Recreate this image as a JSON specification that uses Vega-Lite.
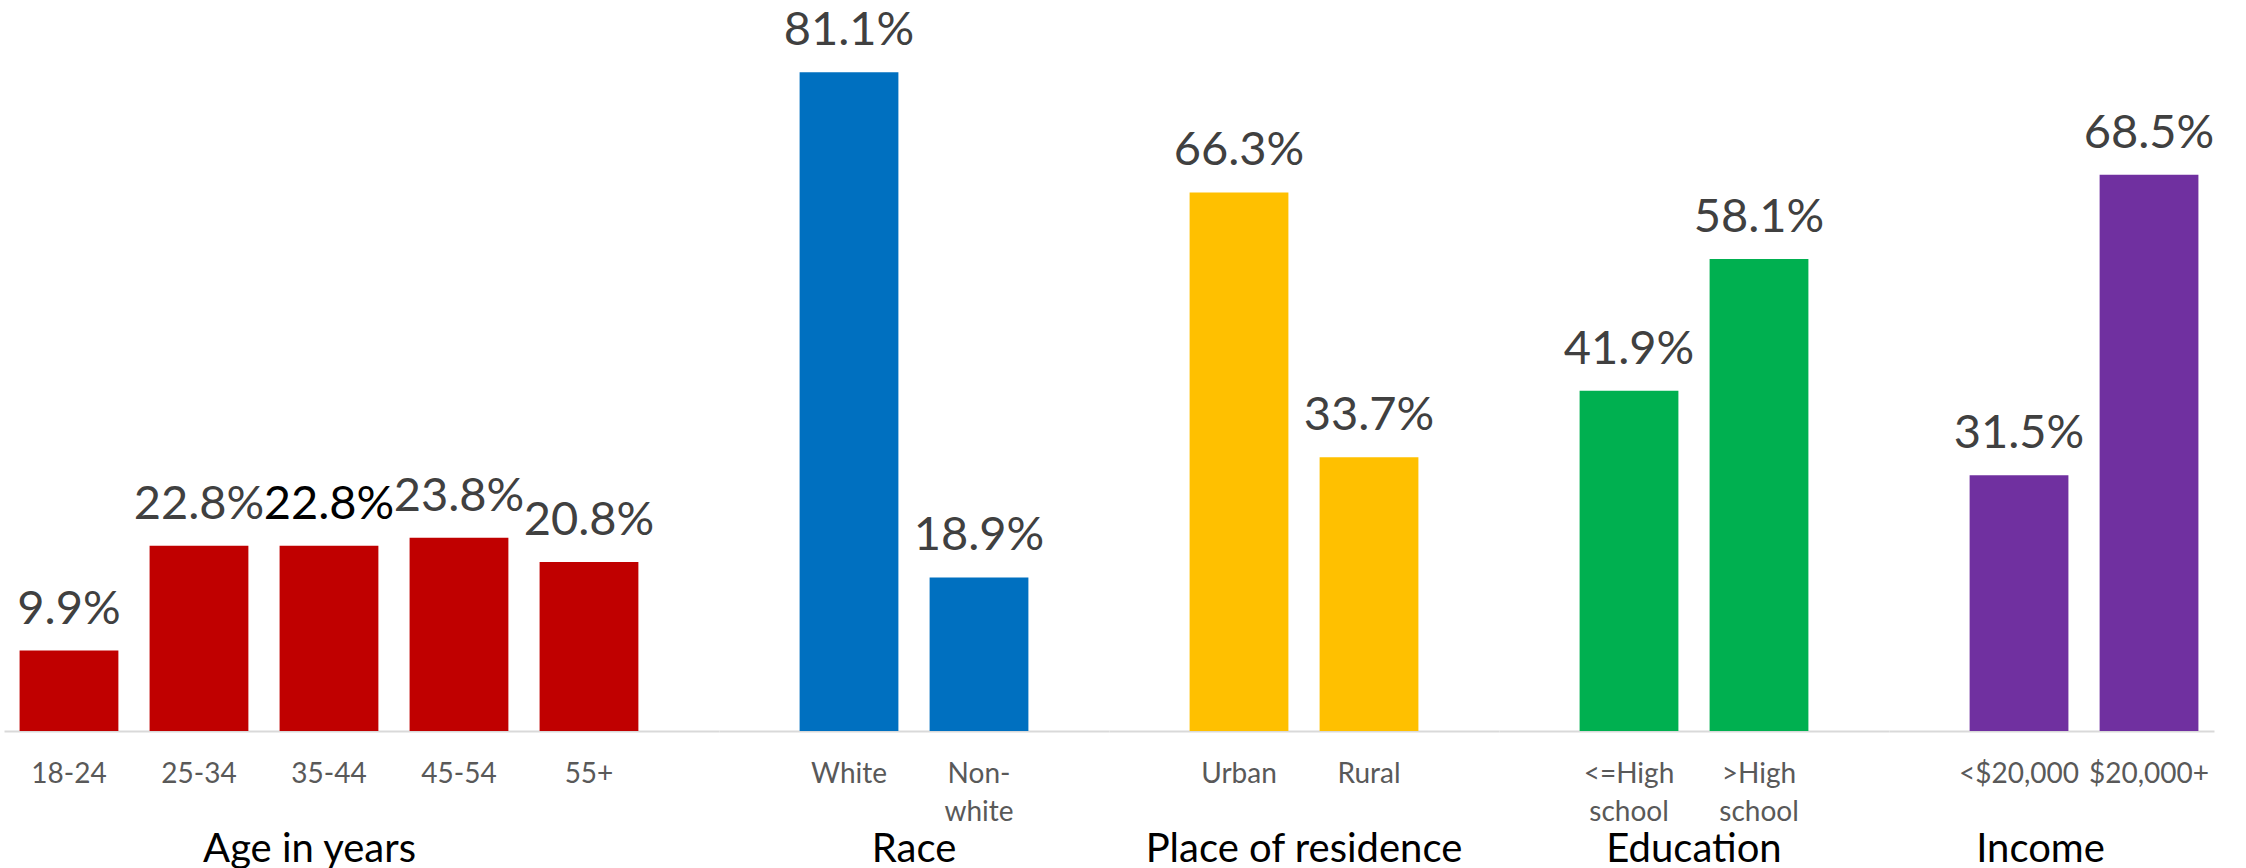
{
  "$schema": "https://vega.github.io/schema/vega-lite/v6.json",
  "padding": {"left": 4, "top": 0, "right": 0, "bottom": 0},
  "background": "white",
  "config": {
    "view": {"stroke": null},
    "font": "Lato",
    "concat": {"spacing": 0},
    "axisX": {
      "title": null,
      "ticks": false,
      "grid": false,
      "domainColor": "#D9D9D9",
      "domainWidth": 2,
      "labelAngle": 0,
      "labelFont": "Lato",
      "labelFontSize": 28,
      "labelColor": "#595959",
      "labelPadding": 29,
      "labelLineHeight": 38,
      "labelExpr": "indexof(datum.label, '|') >= 0 ? split(datum.label, '|') : [datum.label, ' ']"
    },
    "title": {"font": "Lato", "fontSize": 40, "fontWeight": "normal", "color": "#000000", "orient": "bottom", "anchor": "middle", "offset": 0}
  },
  "datasets": {
    "d": [
      {"group": "Age in years", "category": "18-24", "value": 0.099},
      {"group": "Age in years", "category": "25-34", "value": 0.228},
      {"group": "Age in years", "category": "35-44", "value": 0.228},
      {"group": "Age in years", "category": "45-54", "value": 0.238},
      {"group": "Age in years", "category": "55+", "value": 0.208},
      {"group": "Race", "category": "White", "value": 0.811},
      {"group": "Race", "category": "Non-|white", "value": 0.189},
      {"group": "Place of residence", "category": "Urban", "value": 0.663},
      {"group": "Place of residence", "category": "Rural", "value": 0.337},
      {"group": "Education", "category": "<=High|school", "value": 0.419},
      {"group": "Education", "category": ">High|school", "value": 0.581},
      {"group": "Income", "category": "<$20,000", "value": 0.315},
      {"group": "Income", "category": "$20,000+", "value": 0.685}
    ]
  },
  "hconcat": [
    {
      "width": 715, "height": 731,
      "title": {"text": "Age in years", "dx": -52},
      "data": {"name": "d"},
      "transform": [{"filter": "datum.group == 'Age in years'"}],
      "encoding": {
        "x": {"field": "category", "type": "nominal", "sort": null, "scale": {"paddingInner": 0.24, "paddingOuter": 0.37, "align": 0.162}},
        "y": {"field": "value", "type": "quantitative", "scale": {"domain": [0, 0.9]}, "axis": null}
      },
      "layer": [
        {"mark": {"type": "bar", "color": "#C00000"}},
        {"mark": {"type": "text", "fontSize": 47, "baseline": "alphabetic", "dy": -27, "font": "Lato"},
         "encoding": {"text": {"field": "value", "format": ".1%"},
           "color": {"condition": {"test": "datum.category == '35-44'", "value": "#000000"}, "value": "#404040"}}}
      ]
    },
    {
      "width": 390, "height": 731,
      "title": {"text": "Race"},
      "data": {"name": "d"},
      "transform": [{"filter": "datum.group == 'Race'"}],
      "encoding": {
        "x": {"field": "category", "type": "nominal", "sort": null, "scale": {"paddingInner": 0.24, "paddingOuter": 0.62, "align": 0.5}},
        "y": {"field": "value", "type": "quantitative", "scale": {"domain": [0, 0.9]}, "axis": null}
      },
      "layer": [
        {"mark": {"type": "bar", "color": "#0070C0"}},
        {"mark": {"type": "text", "fontSize": 47, "baseline": "alphabetic", "dy": -27, "font": "Lato", "color": "#404040"},
         "encoding": {"text": {"field": "value", "format": ".1%"}}}
      ]
    },
    {
      "width": 390, "height": 731,
      "title": {"text": "Place of residence"},
      "data": {"name": "d"},
      "transform": [{"filter": "datum.group == 'Place of residence'"}],
      "encoding": {
        "x": {"field": "category", "type": "nominal", "sort": null, "scale": {"paddingInner": 0.24, "paddingOuter": 0.62, "align": 0.5}},
        "y": {"field": "value", "type": "quantitative", "scale": {"domain": [0, 0.9]}, "axis": null}
      },
      "layer": [
        {"mark": {"type": "bar", "color": "#FFC000"}},
        {"mark": {"type": "text", "fontSize": 47, "baseline": "alphabetic", "dy": -27, "font": "Lato", "color": "#404040"},
         "encoding": {"text": {"field": "value", "format": ".1%"}}}
      ]
    },
    {
      "width": 390, "height": 731,
      "title": {"text": "Education"},
      "data": {"name": "d"},
      "transform": [{"filter": "datum.group == 'Education'"}],
      "encoding": {
        "x": {"field": "category", "type": "nominal", "sort": null, "scale": {"paddingInner": 0.24, "paddingOuter": 0.62, "align": 0.5}},
        "y": {"field": "value", "type": "quantitative", "scale": {"domain": [0, 0.9]}, "axis": null}
      },
      "layer": [
        {"mark": {"type": "bar", "color": "#00B050"}},
        {"mark": {"type": "text", "fontSize": 47, "baseline": "alphabetic", "dy": -27, "font": "Lato", "color": "#404040"},
         "encoding": {"text": {"field": "value", "format": ".1%"}}}
      ]
    },
    {
      "width": 325, "height": 731,
      "title": {"text": "Income", "dx": -11},
      "data": {"name": "d"},
      "transform": [{"filter": "datum.group == 'Income'"}],
      "encoding": {
        "x": {"field": "category", "type": "nominal", "sort": null, "scale": {"paddingInner": 0.24, "paddingOuter": 0.37, "align": 0.838}},
        "y": {"field": "value", "type": "quantitative", "scale": {"domain": [0, 0.9]}, "axis": null}
      },
      "layer": [
        {"mark": {"type": "bar", "color": "#7030A0"}},
        {"mark": {"type": "text", "fontSize": 47, "baseline": "alphabetic", "dy": -27, "font": "Lato", "color": "#404040"},
         "encoding": {"text": {"field": "value", "format": ".1%"}}}
      ]
    }
  ]
}
